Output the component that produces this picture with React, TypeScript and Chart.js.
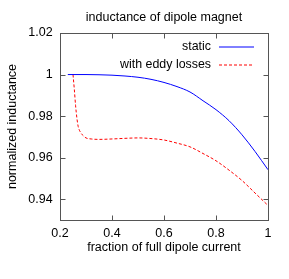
import React, { useEffect, useRef } from 'react';
import { Chart, registerables } from 'chart.js';

Chart.register(...registerables);

const titleText = 'inductance of dipole magnet';
const xTitle = 'fraction of full dipole current';
const yTitle = 'normalized inductance';
const legendLabels = ['static', 'with eddy losses'];

const xTicks = [0.2, 0.4, 0.6, 0.8, 1];
const yTicks = [0.94, 0.96, 0.98, 1, 1.02];

const staticX = [0.23, 0.3, 0.35, 0.4, 0.45, 0.5, 0.55, 0.6, 0.65, 0.7, 0.75, 0.8, 0.85, 0.9, 0.95, 1];
const staticY = [1.0, 1.0, 0.9999, 0.9997, 0.9993, 0.9987, 0.9977, 0.9962, 0.9942, 0.9916, 0.9874, 0.9831, 0.9778, 0.971, 0.963, 0.9542];

const eddyX = [0.25, 0.255, 0.26, 0.265, 0.27, 0.28, 0.29, 0.3, 0.32, 0.35, 0.4, 0.45, 0.5, 0.55, 0.6, 0.65, 0.7, 0.75, 0.8, 0.85, 0.9, 0.95, 1];
const eddyY = [1.0, 0.993, 0.985, 0.979, 0.975, 0.972, 0.9705, 0.9695, 0.969, 0.9688, 0.969, 0.9693, 0.9695, 0.9692, 0.9685, 0.967, 0.9652, 0.962, 0.9585, 0.954, 0.949, 0.943, 0.937];

const FONT = "'Liberation Sans', Arial, Helvetica, sans-serif";
const BLUE = '#0000ff';
const RED = '#ff0000';
const FRAME = '#555555';

const framePlugin = {
  id: 'frame',
  afterDatasetsDraw(chart: any) {
    const { ctx, chartArea: a, scales } = chart;
    ctx.save();
    ctx.strokeStyle = FRAME;
    ctx.lineWidth = 1;
    const L = Math.round(a.left) + 0.5;
    const R = Math.round(a.right) + 0.5;
    const T = Math.round(a.top) + 0.5;
    const B = Math.round(a.bottom) + 0.5;
    ctx.strokeRect(L, T, R - L, B - T);
    const len = 5;
    ctx.beginPath();
    for (const v of xTicks) {
      const x = Math.round(scales.x.getPixelForValue(v)) + 0.5;
      ctx.moveTo(x, B);
      ctx.lineTo(x, B - len);
      ctx.moveTo(x, T);
      ctx.lineTo(x, T + len);
    }
    for (const v of yTicks) {
      const y = Math.round(scales.y.getPixelForValue(v)) + 0.5;
      ctx.moveTo(L, y);
      ctx.lineTo(L + len, y);
      ctx.moveTo(R, y);
      ctx.lineTo(R - len, y);
    }
    ctx.stroke();

    // legend
    ctx.font = `12.4px ${FONT}`;
    ctx.fillStyle = '#000';
    ctx.textAlign = 'right';
    ctx.textBaseline = 'middle';
    const textRight = a.right - 57;
    const lineStart = a.right - 49;
    const lineEnd = a.right - 14;
    const rows = [a.top + 13.7, a.top + 31.3];
    const lineRows = [a.top + 14, a.top + 32];
    const colors = [BLUE, RED];
    const dashes = [[], [3, 2]];
    legendLabels.forEach((lbl, i) => {
      ctx.fillText(lbl, textRight, rows[i]);
      ctx.beginPath();
      ctx.strokeStyle = colors[i];
      ctx.setLineDash(dashes[i]);
      ctx.moveTo(lineStart, lineRows[i]);
      ctx.lineTo(lineEnd, lineRows[i]);
      ctx.stroke();
    });
    ctx.restore();
  },
};

export default function App() {
  const ref = useRef<HTMLCanvasElement>(null);
  useEffect(() => {
    document.body.style.margin = '0';
    const font = { family: FONT, size: 12.5, weight: 'normal' as const, lineHeight: 1.2 };
    const chart = new Chart(ref.current!, {
      type: 'line',
      data: {
        datasets: [
          {
            label: legendLabels[0],
            data: staticX.map((x, i) => ({ x, y: staticY[i] })),
            borderColor: BLUE,
            borderWidth: 1,
            pointRadius: 0,
            cubicInterpolationMode: 'monotone',
            fill: false,
          },
          {
            label: legendLabels[1],
            data: eddyX.map((x, i) => ({ x, y: eddyY[i] })),
            borderColor: RED,
            borderWidth: 1,
            borderDash: [3, 2],
            pointRadius: 0,
            cubicInterpolationMode: 'monotone',
            fill: false,
          },
        ],
      },
      options: {
        animation: false,
        responsive: false,
        layout: { padding: { left: 0, right: 21, top: 0, bottom: 0 } },
        plugins: {
          legend: { display: false },
          tooltip: { enabled: false },
          title: {
            display: true,
            text: titleText,
            fullSize: false,
            color: '#000',
            font,
            padding: { top: 10.5, bottom: 7.5 },
          },
        },
        scales: {
          x: {
            type: 'linear',
            min: 0.2,
            max: 1,
            afterBuildTicks: (s: any) => {
              s.ticks = xTicks.map((v) => ({ value: v }));
            },
            afterFit: (s: any) => {
              s.height = 59;
            },
            grid: { display: false, drawTicks: false },
            border: { display: false },
            ticks: {
              color: '#000',
              font,
              padding: 6,
              maxRotation: 0,
              autoSkip: false,
              callback: (v: any) => String(Number(Number(v).toFixed(2))),
            },
            title: {
              display: true,
              text: xTitle,
              color: '#000',
              font,
              padding: { top: 0, bottom: 23.5 },
            },
          },
          y: {
            type: 'linear',
            min: 0.93,
            max: 1.02,
            afterBuildTicks: (s: any) => {
              s.ticks = yTicks.map((v) => ({ value: v }));
            },
            afterFit: (s: any) => {
              s.width = 60;
            },
            grid: { display: false, drawTicks: false },
            border: { display: false },
            ticks: {
              color: '#000',
              font,
              padding: 7.3,
              autoSkip: false,
              callback: (v: any) => String(Number(Number(v).toFixed(2))),
            },
            title: {
              display: true,
              text: yTitle,
              color: '#000',
              font,
              padding: { top: 5, bottom: 0 },
            },
          },
        },
      },
      plugins: [framePlugin],
    });
    return () => chart.destroy();
  }, []);
  return <canvas ref={ref} width={289} height={279} style={{ display: 'block' }} />;
}
